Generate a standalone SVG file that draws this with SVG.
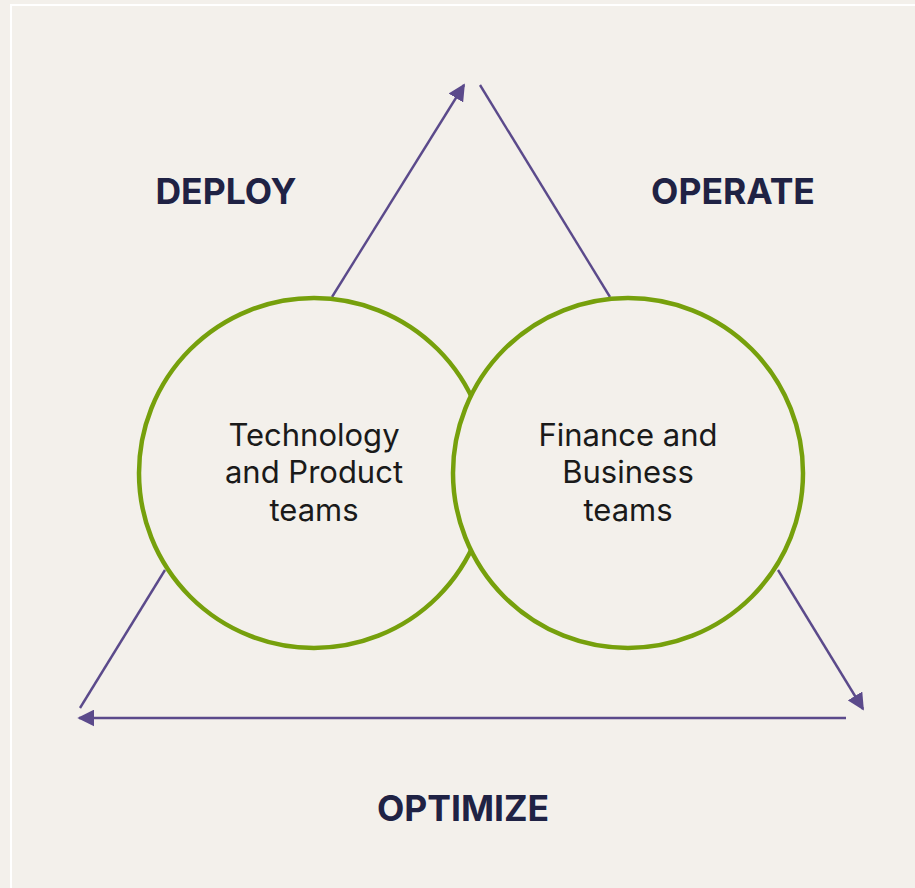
<svg xmlns="http://www.w3.org/2000/svg" width="915" height="888" viewBox="0 0 915 888">
<defs>
<style>
.bg{fill:#f3f0eb}
.frame{fill:#f3f0eb;stroke:#ffffff;stroke-width:2}
.circ{fill:none;stroke:#76a00c;stroke-width:4.5}
.circf{fill:#f3f0eb;stroke:#76a00c;stroke-width:4.5}
.conn{stroke:#5b4a8b;stroke-width:2.4;fill:none}
.title{font-family:Inter,"Liberation Sans",sans-serif;font-weight:700;font-size:35.5px;fill:#1f2244;text-anchor:middle}
.lbl{font-family:Inter,"Liberation Sans",sans-serif;font-weight:400;font-size:31px;fill:#1a1a1a;text-anchor:middle}
</style>
<marker id="ahb" viewBox="0 0 10 10" refX="9" refY="5" markerWidth="17" markerHeight="17" markerUnits="userSpaceOnUse" orient="auto">
<path d="M0,0 L10,5 L0,10 z" fill="#5b4a8b"/>
</marker>
</defs>
<rect class="bg" x="0" y="0" width="915" height="888"/>
<rect class="frame" x="11" y="5" width="910" height="890"/>
<g id="connectors">
<line class="conn" x1="332" y1="297" x2="464" y2="85" marker-end="url(#ahb)"/>
<line class="conn" x1="480" y1="85" x2="610" y2="297"/>
<line class="conn" x1="778" y1="570" x2="863" y2="709" marker-end="url(#ahb)"/>
<line class="conn" x1="846" y1="718" x2="79" y2="718" marker-end="url(#ahb)"/>
<line class="conn" x1="165" y1="570" x2="80" y2="708"/>
</g>
<g id="node-tech">
<circle class="circ" cx="314" cy="473" r="175"/>
<text class="lbl" x="314" y="446">Technology</text>
<text class="lbl" x="314" y="483">and Product</text>
<text class="lbl" x="314" y="521">teams</text>
</g>
<g id="node-finance">
<circle class="circf" cx="628" cy="473" r="175"/>
<text class="lbl" x="628" y="446">Finance and</text>
<text class="lbl" x="628" y="483">Business</text>
<text class="lbl" x="628" y="521">teams</text>
</g>
<g id="label-deploy"><text class="title" x="226" y="204">DEPLOY</text></g>
<g id="label-operate"><text class="title" x="733" y="204">OPERATE</text></g>
<g id="label-optimize"><text class="title" x="463" y="821">OPTIMIZE</text></g>
</svg>
